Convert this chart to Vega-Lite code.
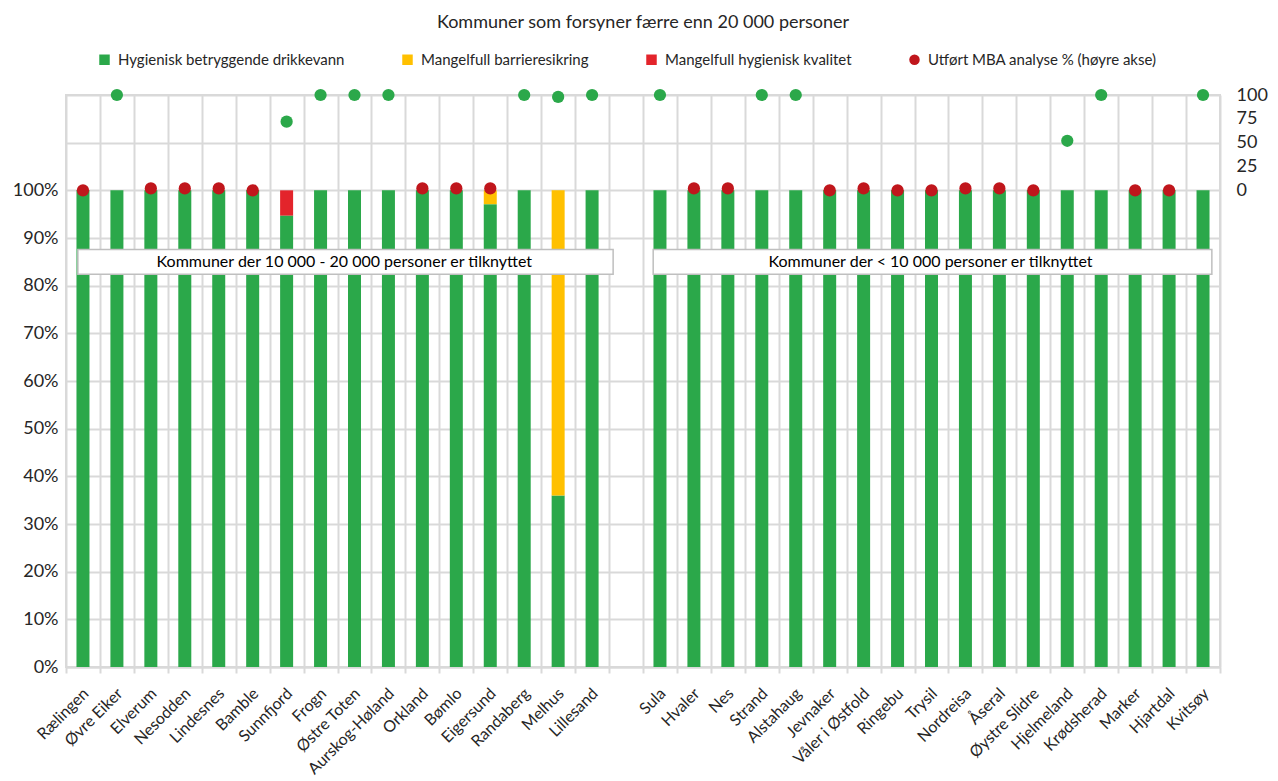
{
  "$schema": "https://vega.github.io/schema/vega-lite/v6.json",
  "width": 1154,
  "height": 572,
  "autosize": "none",
  "padding": {"left": 66, "top": 95, "right": 58, "bottom": 114},
  "background": "white",
  "title": {"text": "Kommuner som forsyner færre enn 20 000 personer", "font": "Lato", "fontSize": 18, "fontWeight": "normal", "color": "#262626", "anchor": "middle", "offset": 20},
  "config": {
    "view": {"stroke": "#d9d9d9", "strokeWidth": 2},
    "scale": {"bandPaddingInner": 0, "bandPaddingOuter": 0, "barBandPaddingInner": 0, "rectBandPaddingInner": 0},
    "axisX": {"title": null, "tickBand": "extent", "grid": true, "gridColor": "#d9d9d9", "gridWidth": 2, "ticks": true, "tickColor": "#d9d9d9", "tickWidth": 2, "tickSize": 6, "domainColor": "#d9d9d9", "domainWidth": 2, "labelAngle": -45, "labelAlign": "right", "labelBaseline": "top", "labelOffset": -3, "labelFont": "Lato", "labelFontSize": 16, "labelColor": "#262626", "labelPadding": 12, "labelLimit": 200}
  },
  "datasets": {
    "bars": [
      {"kommune": "Rælingen", "serie": "Hygienisk betryggende drikkevann", "andel": 1},
      {"kommune": "Øvre Eiker", "serie": "Hygienisk betryggende drikkevann", "andel": 1},
      {"kommune": "Elverum", "serie": "Hygienisk betryggende drikkevann", "andel": 1},
      {"kommune": "Nesodden", "serie": "Hygienisk betryggende drikkevann", "andel": 1},
      {"kommune": "Lindesnes", "serie": "Hygienisk betryggende drikkevann", "andel": 1},
      {"kommune": "Bamble", "serie": "Hygienisk betryggende drikkevann", "andel": 1},
      {"kommune": "Sunnfjord", "serie": "Hygienisk betryggende drikkevann", "andel": 0.947},
      {"kommune": "Sunnfjord", "serie": "Mangelfull hygienisk kvalitet", "andel": 0.053},
      {"kommune": "Frogn", "serie": "Hygienisk betryggende drikkevann", "andel": 1},
      {"kommune": "Østre Toten", "serie": "Hygienisk betryggende drikkevann", "andel": 1},
      {"kommune": "Aurskog-Høland", "serie": "Hygienisk betryggende drikkevann", "andel": 1},
      {"kommune": "Orkland", "serie": "Hygienisk betryggende drikkevann", "andel": 1},
      {"kommune": "Bømlo", "serie": "Hygienisk betryggende drikkevann", "andel": 1},
      {"kommune": "Eigersund", "serie": "Hygienisk betryggende drikkevann", "andel": 0.971},
      {"kommune": "Eigersund", "serie": "Mangelfull barrieresikring", "andel": 0.029},
      {"kommune": "Randaberg", "serie": "Hygienisk betryggende drikkevann", "andel": 1},
      {"kommune": "Melhus", "serie": "Hygienisk betryggende drikkevann", "andel": 0.36},
      {"kommune": "Melhus", "serie": "Mangelfull barrieresikring", "andel": 0.64},
      {"kommune": "Lillesand", "serie": "Hygienisk betryggende drikkevann", "andel": 1},
      {"kommune": "Sula", "serie": "Hygienisk betryggende drikkevann", "andel": 1},
      {"kommune": "Hvaler", "serie": "Hygienisk betryggende drikkevann", "andel": 1},
      {"kommune": "Nes", "serie": "Hygienisk betryggende drikkevann", "andel": 1},
      {"kommune": "Strand", "serie": "Hygienisk betryggende drikkevann", "andel": 1},
      {"kommune": "Alstahaug", "serie": "Hygienisk betryggende drikkevann", "andel": 1},
      {"kommune": "Jevnaker", "serie": "Hygienisk betryggende drikkevann", "andel": 1},
      {"kommune": "Våler i Østfold", "serie": "Hygienisk betryggende drikkevann", "andel": 1},
      {"kommune": "Ringebu", "serie": "Hygienisk betryggende drikkevann", "andel": 1},
      {"kommune": "Trysil", "serie": "Hygienisk betryggende drikkevann", "andel": 1},
      {"kommune": "Nordreisa", "serie": "Hygienisk betryggende drikkevann", "andel": 1},
      {"kommune": "Åseral", "serie": "Hygienisk betryggende drikkevann", "andel": 1},
      {"kommune": "Øystre Slidre", "serie": "Hygienisk betryggende drikkevann", "andel": 1},
      {"kommune": "Hjelmeland", "serie": "Hygienisk betryggende drikkevann", "andel": 1},
      {"kommune": "Krødsherad", "serie": "Hygienisk betryggende drikkevann", "andel": 1},
      {"kommune": "Marker", "serie": "Hygienisk betryggende drikkevann", "andel": 1},
      {"kommune": "Hjartdal", "serie": "Hygienisk betryggende drikkevann", "andel": 1},
      {"kommune": "Kvitsøy", "serie": "Hygienisk betryggende drikkevann", "andel": 1}
    ],
    "mba": [
      {"kommune": "Rælingen", "mba": 0},
      {"kommune": "Øvre Eiker", "mba": 100},
      {"kommune": "Elverum", "mba": 2},
      {"kommune": "Nesodden", "mba": 2},
      {"kommune": "Lindesnes", "mba": 2},
      {"kommune": "Bamble", "mba": 0},
      {"kommune": "Sunnfjord", "mba": 72},
      {"kommune": "Frogn", "mba": 100},
      {"kommune": "Østre Toten", "mba": 100},
      {"kommune": "Aurskog-Høland", "mba": 100},
      {"kommune": "Orkland", "mba": 2},
      {"kommune": "Bømlo", "mba": 2},
      {"kommune": "Eigersund", "mba": 2},
      {"kommune": "Randaberg", "mba": 100},
      {"kommune": "Melhus", "mba": 98},
      {"kommune": "Lillesand", "mba": 100},
      {"kommune": "Sula", "mba": 100},
      {"kommune": "Hvaler", "mba": 2},
      {"kommune": "Nes", "mba": 2},
      {"kommune": "Strand", "mba": 100},
      {"kommune": "Alstahaug", "mba": 100},
      {"kommune": "Jevnaker", "mba": 0},
      {"kommune": "Våler i Østfold", "mba": 2},
      {"kommune": "Ringebu", "mba": 0},
      {"kommune": "Trysil", "mba": 0},
      {"kommune": "Nordreisa", "mba": 2},
      {"kommune": "Åseral", "mba": 2},
      {"kommune": "Øystre Slidre", "mba": 0},
      {"kommune": "Hjelmeland", "mba": 52},
      {"kommune": "Krødsherad", "mba": 100},
      {"kommune": "Marker", "mba": 0},
      {"kommune": "Hjartdal", "mba": 0},
      {"kommune": "Kvitsøy", "mba": 100}
    ],
    "boksStor": [
      {"start": "Rælingen", "slutt": " ", "midt": "Østre Toten", "topp": 0.876, "bunn": 0.824, "tekstY": 0.85, "tekst": "Kommuner der 10 000 - 20 000 personer er tilknyttet"}
    ],
    "boksLiten": [
      {"start": "Sula", "slutt": "Kvitsøy", "midt": "Trysil", "topp": 0.876, "bunn": 0.824, "tekstY": 0.85, "tekst": "Kommuner der < 10 000 personer er tilknyttet"}
    ]
  },
  "layer": [
    {
      "layer": [
        {
          "data": {"name": "bars"},
          "mark": {"type": "bar", "size": 13},
          "encoding": {
            "x": {"field": "kommune", "type": "nominal", "title": null, "scale": {"domain": ["Rælingen","Øvre Eiker","Elverum","Nesodden","Lindesnes","Bamble","Sunnfjord","Frogn","Østre Toten","Aurskog-Høland","Orkland","Bømlo","Eigersund","Randaberg","Melhus","Lillesand"," ","Sula","Hvaler","Nes","Strand","Alstahaug","Jevnaker","Våler i Østfold","Ringebu","Trysil","Nordreisa","Åseral","Øystre Slidre","Hjelmeland","Krødsherad","Marker","Hjartdal","Kvitsøy"], "paddingInner": 0, "paddingOuter": 0}},
            "y": {"field": "andel", "type": "quantitative", "stack": "zero", "title": null, "scale": {"domain": [0, 1.2], "nice": false},
              "axis": {"orient": "left", "values": [0, 0.1, 0.2, 0.3, 0.4, 0.5, 0.6, 0.7, 0.8, 0.9, 1, 1.1, 1.2], "labelExpr": "datum.value > 1.001 ? '' : format(datum.value, '.0%')", "grid": true, "gridColor": "#d9d9d9", "gridWidth": 2, "domain": false, "ticks": false, "labelFont": "Lato", "labelFontSize": 18, "labelColor": "#262626", "labelPadding": 8}},
            "color": {"field": "serie", "type": "nominal",
              "scale": {"domain": ["Hygienisk betryggende drikkevann", "Mangelfull barrieresikring", "Mangelfull hygienisk kvalitet", "Utført MBA analyse % (høyre akse)"], "range": ["#2ba84a", "#ffc000", "#e3242b", "#c0161c"]},
              "legend": {"title": null, "orient": "none", "legendX": 31, "legendY": -43, "direction": "horizontal", "columns": 4, "columnPadding": 55, "labelFont": "Lato", "labelFontSize": 15, "labelColor": "#262626", "labelLimit": 400, "labelOffset": 6, "symbolSize": 110, "symbolType": "square", "symbolStrokeWidth": 0,
                "encode": {"symbols": {"update": {"shape": {"signal": "datum.value === 'Utført MBA analyse % (høyre akse)' ? 'circle' : 'square'"}}}}}},
            "order": {"field": "serie", "sort": "ascending"}
          }
        },
        {
          "data": {"name": "boksStor"},
          "mark": {"type": "rect", "fill": "white", "stroke": "#bfbfbf", "strokeWidth": 1.5},
          "encoding": {
            "x": {"field": "start", "type": "nominal", "bandPosition": 0.35, "title": null, "scale": {"domain": ["Rælingen","Øvre Eiker","Elverum","Nesodden","Lindesnes","Bamble","Sunnfjord","Frogn","Østre Toten","Aurskog-Høland","Orkland","Bømlo","Eigersund","Randaberg","Melhus","Lillesand"," ","Sula","Hvaler","Nes","Strand","Alstahaug","Jevnaker","Våler i Østfold","Ringebu","Trysil","Nordreisa","Åseral","Øystre Slidre","Hjelmeland","Krødsherad","Marker","Hjartdal","Kvitsøy"]}},
            "x2": {"field": "slutt", "bandPosition": 0.12},
            "y": {"field": "topp", "type": "quantitative", "title": null},
            "y2": {"field": "bunn"}
          }
        },
        {
          "data": {"name": "boksLiten"},
          "mark": {"type": "rect", "fill": "white", "stroke": "#bfbfbf", "strokeWidth": 1.5},
          "encoding": {
            "x": {"field": "start", "type": "nominal", "bandPosition": 0.3, "title": null, "scale": {"domain": ["Rælingen","Øvre Eiker","Elverum","Nesodden","Lindesnes","Bamble","Sunnfjord","Frogn","Østre Toten","Aurskog-Høland","Orkland","Bømlo","Eigersund","Randaberg","Melhus","Lillesand"," ","Sula","Hvaler","Nes","Strand","Alstahaug","Jevnaker","Våler i Østfold","Ringebu","Trysil","Nordreisa","Åseral","Øystre Slidre","Hjelmeland","Krødsherad","Marker","Hjartdal","Kvitsøy"]}},
            "x2": {"field": "slutt", "bandPosition": 0.76},
            "y": {"field": "topp", "type": "quantitative", "title": null},
            "y2": {"field": "bunn"}
          }
        },
        {
          "data": {"name": "boksStor"},
          "mark": {"type": "text", "font": "Lato", "fontSize": 16, "color": "#000000", "align": "center", "baseline": "middle"},
          "encoding": {
            "x": {"field": "midt", "type": "nominal", "bandPosition": 0.2, "title": null, "scale": {"domain": ["Rælingen","Øvre Eiker","Elverum","Nesodden","Lindesnes","Bamble","Sunnfjord","Frogn","Østre Toten","Aurskog-Høland","Orkland","Bømlo","Eigersund","Randaberg","Melhus","Lillesand"," ","Sula","Hvaler","Nes","Strand","Alstahaug","Jevnaker","Våler i Østfold","Ringebu","Trysil","Nordreisa","Åseral","Øystre Slidre","Hjelmeland","Krødsherad","Marker","Hjartdal","Kvitsøy"]}},
            "y": {"field": "tekstY", "type": "quantitative", "title": null},
            "text": {"field": "tekst"}
          }
        },
        {
          "data": {"name": "boksLiten"},
          "mark": {"type": "text", "font": "Lato", "fontSize": 16, "color": "#000000", "align": "center", "baseline": "middle"},
          "encoding": {
            "x": {"field": "midt", "type": "nominal", "bandPosition": 0.47, "title": null, "scale": {"domain": ["Rælingen","Øvre Eiker","Elverum","Nesodden","Lindesnes","Bamble","Sunnfjord","Frogn","Østre Toten","Aurskog-Høland","Orkland","Bømlo","Eigersund","Randaberg","Melhus","Lillesand"," ","Sula","Hvaler","Nes","Strand","Alstahaug","Jevnaker","Våler i Østfold","Ringebu","Trysil","Nordreisa","Åseral","Øystre Slidre","Hjelmeland","Krødsherad","Marker","Hjartdal","Kvitsøy"]}},
            "y": {"field": "tekstY", "type": "quantitative", "title": null},
            "text": {"field": "tekst"}
          }
        }
      ]
    },
    {
      "data": {"name": "mba"},
      "mark": {"type": "circle", "size": 150, "opacity": 1},
      "encoding": {
        "x": {"field": "kommune", "type": "nominal", "title": null, "scale": {"domain": ["Rælingen","Øvre Eiker","Elverum","Nesodden","Lindesnes","Bamble","Sunnfjord","Frogn","Østre Toten","Aurskog-Høland","Orkland","Bømlo","Eigersund","Randaberg","Melhus","Lillesand"," ","Sula","Hvaler","Nes","Strand","Alstahaug","Jevnaker","Våler i Østfold","Ringebu","Trysil","Nordreisa","Åseral","Øystre Slidre","Hjelmeland","Krødsherad","Marker","Hjartdal","Kvitsøy"]}},
        "y": {"field": "mba", "type": "quantitative", "title": null, "scale": {"domain": [-500, 100], "nice": false},
          "axis": {"orient": "right", "values": [0, 25, 50, 75, 100], "grid": false, "domain": false, "ticks": false, "labelFont": "Lato", "labelFontSize": 18, "labelColor": "#262626", "labelPadding": 16}},
        "color": {"condition": {"test": "datum.mba < 20", "value": "#c0161c"}, "value": "#2ba84a"}
      }
    }
  ],
  "resolve": {"scale": {"y": "independent"}}
}
